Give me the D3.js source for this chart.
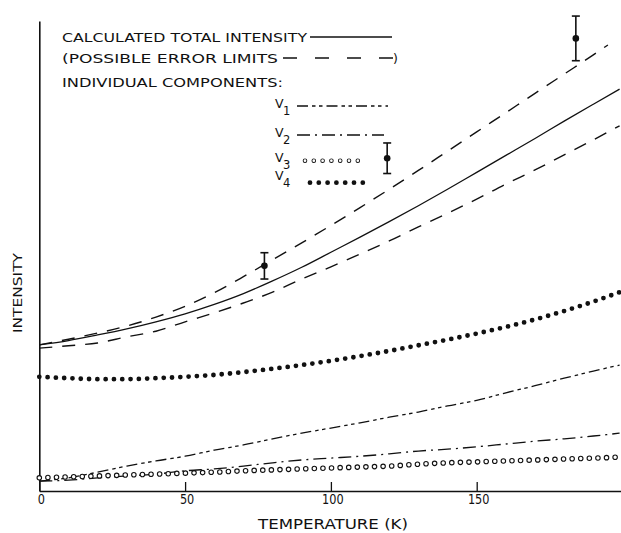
<!DOCTYPE html>
<html>
<head>
<meta charset="utf-8">
<script src="https://cdn.jsdelivr.net/npm/d3@7"></script>
<style>
  html, body { margin: 0; padding: 0; background: #fff; }
  svg { display: block; }
  text { font-family: "DejaVu Sans", "Liberation Sans", sans-serif; fill: #111; }
</style>
</head>
<body>
<svg id="chart" width="621" height="533"></svg>
<script>
// Temperature grid (K) shared by most curves
const temperature = [0, 10, 20, 30, 40, 50, 60, 70, 80, 90, 100, 110, 120, 130, 140, 150, 160, 170, 180, 190, 199];
const temperatureUpper = [0, 10, 20, 30, 40, 50, 60, 70, 80, 90, 100, 110, 120, 130, 140, 150, 160, 170, 180, 190, 195];

// Intensities (arbitrary units)
const totalIntensity = [31.1, 32.0, 33.2, 34.5, 36.0, 37.7, 39.7, 42.0, 44.7, 47.6, 50.8, 54.0, 57.3, 60.7, 64.2, 67.8, 71.4, 75.0, 78.7, 82.3, 85.5];
const upperLimit     = [31.1, 32.3, 33.6, 35.1, 37.0, 39.3, 42.2, 45.6, 49.2, 52.8, 56.5, 60.3, 64.2, 68.2, 72.3, 76.4, 80.5, 84.6, 88.7, 92.8, 94.9];
const lowerLimit     = [30.4, 30.9, 31.5, 32.8, 34.0, 36.0, 37.9, 40.0, 42.3, 45.1, 47.7, 50.4, 53.2, 56.2, 59.1, 62.1, 65.3, 68.3, 71.5, 74.7, 77.7];
const componentV1    = [2.1, 2.8, 4.0, 5.3, 6.4, 7.4, 8.7, 9.8, 11.1, 12.3, 13.4, 14.5, 15.7, 16.8, 18.1, 19.3, 20.9, 22.4, 24.0, 25.5, 26.8];
const componentV2    = [2.1, 2.3, 2.8, 3.2, 3.6, 4.3, 4.7, 5.3, 6.0, 6.6, 7.0, 7.4, 7.9, 8.5, 8.9, 9.4, 10.0, 10.6, 11.1, 11.7, 12.3];
const componentV3    = [2.8, 3.0, 3.2, 3.4, 3.6, 3.8, 4.0, 4.3, 4.5, 4.7, 4.9, 5.1, 5.3, 5.7, 6.0, 6.2, 6.4, 6.6, 6.8, 7.0, 7.2];
const componentV4    = [24.3, 24.0, 23.8, 23.8, 24.0, 24.3, 24.7, 25.3, 26.0, 26.8, 27.7, 28.7, 29.8, 31.0, 32.2, 33.5, 34.9, 36.5, 38.3, 40.3, 42.3];

// Measured points with error bars
const measuredT   = [77.2, 119.3, 184.0];
const measuredI   = [47.9, 70.8, 96.3];
const measuredErr = [2.8, 3.25, 4.75];

// Axis ticks
const xTicks = [0, 50, 100, 150];

const svg = d3.select("#chart");
const x = d3.scaleLinear().domain([0, 200]).range([39.3, 622.5]);
const y = d3.scaleLinear().domain([0, 100]).range([491, 21]);

const line = (ts, vs) => d3.line().x((d, i) => x(ts[i])).y(d => y(d)).curve(d3.curveMonotoneX)(vs);

// Axes
const xAxis = svg.append("g").attr("transform", `translate(0,${y(0)})`)
  .call(d3.axisBottom(x).tickValues(xTicks).tickSizeInner(-9).tickSizeOuter(0).tickPadding(3));
xAxis.select(".domain").attr("stroke", "#111").attr("stroke-width", 1.6);
xAxis.selectAll(".tick line").attr("stroke", "#111").attr("stroke-width", 1.3);
xAxis.selectAll(".tick text")
  .attr("fill", "#111").attr("font-size", 14)
  .attr("font-family", "DejaVu Sans, sans-serif")
  .attr("x", 1.5)
  .attr("textLength", d => String(d).length * 7.2)
  .attr("lengthAdjust", "spacingAndGlyphs");

const yAxis = svg.append("g").attr("transform", `translate(${x(0)},0)`)
  .call(d3.axisLeft(y).tickValues([]).tickSizeOuter(0));
yAxis.select(".domain").attr("stroke", "#111").attr("stroke-width", 1.6);

// Axis titles
svg.append("text").attr("x", 258).attr("y", 529).attr("font-size", 14)
  .attr("textLength", 150).attr("lengthAdjust", "spacingAndGlyphs")
  .text("TEMPERATURE (K)");
svg.append("text").attr("transform", "translate(22,333) rotate(-90)").attr("font-size", 13)
  .attr("textLength", 80).attr("lengthAdjust", "spacingAndGlyphs")
  .text("INTENSITY");

// Curve styles
const V1_DASH = "11,4,3.5,3.5,3.5,4";
const V2_DASH = "13,5,2,5";

const curves = svg.append("g").attr("fill", "none").attr("stroke", "#111");

curves.append("path").attr("d", line(temperature, componentV1))
  .attr("stroke-width", 1.3).attr("stroke-dasharray", V1_DASH);
curves.append("path").attr("d", line(temperature, componentV2))
  .attr("stroke-width", 1.3).attr("stroke-dasharray", V2_DASH);

// V3: open circles (black rings with white centres)
const v3 = line(temperature, componentV3);
curves.append("path").attr("d", v3).attr("stroke-width", 5.6)
  .attr("stroke-linecap", "round").attr("stroke-dasharray", "0,8.6");
curves.append("path").attr("d", v3).attr("stroke", "#fff").attr("stroke-width", 3.4)
  .attr("stroke-linecap", "round").attr("stroke-dasharray", "0,8.6");

// V4: filled dots
curves.append("path").attr("d", line(temperature, componentV4)).attr("stroke-width", 4.8)
  .attr("stroke-linecap", "round").attr("stroke-dasharray", "0,8.3");

// Total intensity and its error limits
curves.append("path").attr("d", line(temperature, totalIntensity)).attr("stroke-width", 1.3);
curves.append("path").attr("d", line(temperatureUpper, upperLimit))
  .attr("stroke-width", 1.4).attr("stroke-dasharray", "13,10");
curves.append("path").attr("d", line(temperature, lowerLimit))
  .attr("stroke-width", 1.4).attr("stroke-dasharray", "13,10");

// Measured points
const pts = svg.append("g").attr("stroke", "#111").attr("stroke-width", 1.6);
measuredT.forEach((t, i) => {
  const cx = x(t), lo = y(measuredI[i] - measuredErr[i]), hi = y(measuredI[i] + measuredErr[i]);
  pts.append("line").attr("x1", cx).attr("x2", cx).attr("y1", lo).attr("y2", hi);
  pts.append("line").attr("x1", cx - 4).attr("x2", cx + 4).attr("y1", lo).attr("y2", lo);
  pts.append("line").attr("x1", cx - 4).attr("x2", cx + 4).attr("y1", hi).attr("y2", hi);
  pts.append("circle").attr("cx", cx).attr("cy", y(measuredI[i])).attr("r", 3.3).attr("fill", "#111").attr("stroke", "none");
});

// Key
const key = svg.append("g");
key.append("text").attr("x", 62).attr("y", 42.3).attr("font-size", 12.5)
  .attr("textLength", 245).attr("lengthAdjust", "spacingAndGlyphs").text("CALCULATED TOTAL INTENSITY");
key.append("line").attr("x1", 310).attr("x2", 392).attr("y1", 37).attr("y2", 37)
  .attr("stroke", "#111").attr("stroke-width", 1.3);

key.append("text").attr("x", 62).attr("y", 62.7).attr("font-size", 12.5)
  .attr("textLength", 216).attr("lengthAdjust", "spacingAndGlyphs").text("(POSSIBLE ERROR LIMITS");
key.append("line").attr("x1", 283).attr("x2", 393).attr("y1", 58).attr("y2", 58)
  .attr("stroke", "#111").attr("stroke-width", 1.3).attr("stroke-dasharray", "14,18");
key.append("text").attr("x", 393).attr("y", 62.7).attr("font-size", 12.5).text(")");

key.append("text").attr("x", 62).attr("y", 87.3).attr("font-size", 12.5)
  .attr("textLength", 221).attr("lengthAdjust", "spacingAndGlyphs").text("INDIVIDUAL COMPONENTS:");

const compKeys = [
  { sub: "1", base: 108.3 },
  { sub: "2", base: 137 },
  { sub: "3", base: 162.3 },
  { sub: "4", base: 180 }
];
compKeys.forEach(k => {
  const t = key.append("text").attr("x", 275).attr("y", k.base).attr("font-size", 12.5);
  t.append("tspan").text("V");
  t.append("tspan").attr("dy", 7).attr("dx", -0.5).attr("font-size", 11.5).text(k.sub);
});

key.append("line").attr("x1", 297).attr("x2", 388).attr("y1", 106).attr("y2", 106)
  .attr("stroke", "#111").attr("stroke-width", 1.3).attr("stroke-dasharray", V1_DASH);
key.append("line").attr("x1", 297).attr("x2", 384).attr("y1", 135).attr("y2", 135)
  .attr("stroke", "#111").attr("stroke-width", 1.3).attr("stroke-dasharray", V2_DASH);
key.append("line").attr("x1", 305).attr("x2", 358).attr("y1", 160.7).attr("y2", 160.7)
  .attr("stroke", "#111").attr("stroke-width", 4.6).attr("stroke-linecap", "round").attr("stroke-dasharray", "0,8.8");
key.append("line").attr("x1", 305).attr("x2", 358).attr("y1", 160.7).attr("y2", 160.7)
  .attr("stroke", "#fff").attr("stroke-width", 2.8).attr("stroke-linecap", "round").attr("stroke-dasharray", "0,8.8");
key.append("line").attr("x1", 310).attr("x2", 363).attr("y1", 182.7).attr("y2", 182.7)
  .attr("stroke", "#111").attr("stroke-width", 4.8).attr("stroke-linecap", "round").attr("stroke-dasharray", "0,8.8");
</script>
</body>
</html>
